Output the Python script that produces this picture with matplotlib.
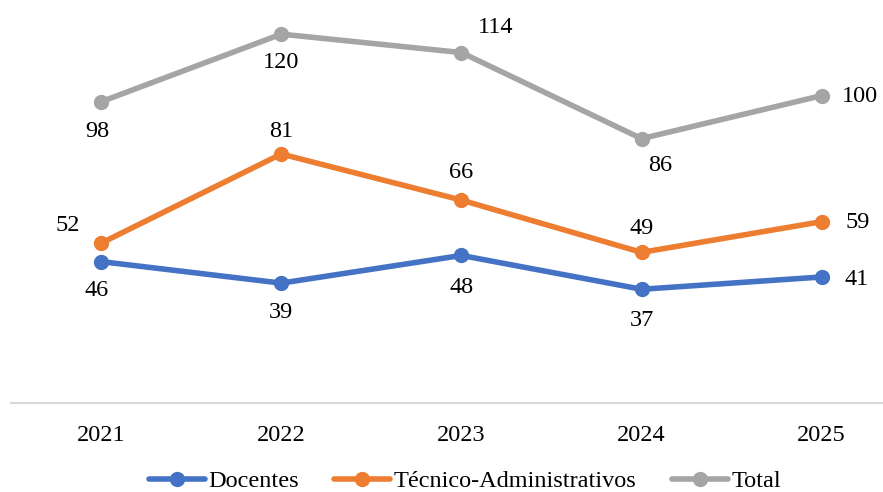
import numpy as np
import matplotlib.pyplot as plt

plt.rcParams['font.family'] = ['Liberation Serif', 'DejaVu Serif']

anos = ['2021', '2022', '2023', '2024', '2025']
docentes = [46, 39, 48, 37, 41]
tecnicos = [52, 81, 66, 49, 59]
total = [98, 120, 114, 86, 100]

# label offsets in pixels (dx, dy)
off_doc = [(-4, -29), (0, -29), (0, -32), (0, -31), (35, -3)]
off_tec = [(-33, 18), (0, 23), (0, 28), (0, 24), (36, -1)]
off_tot = [(-4, -30), (0, -28), (34, 25), (19, -27), (38, -1)]

fig = plt.figure(figsize=(8.83, 4.92), dpi=100)
ax = fig.add_axes([11/883, 89/492, 872/883, 403/492])

x = np.arange(len(anos))
series = [
    ('Docentes', docentes, '#4472C4', off_doc),
    ('Técnico-Administrativos', tecnicos, '#ED7D31', off_tec),
    ('Total', total, '#A5A5A5', off_tot),
]
for nome, vals, cor, offs in series:
    ax.plot(x, vals, color=cor, lw=4, marker='o', ms=10, label=nome,
            solid_capstyle='round')
    for xi, v, (dx, dy) in zip(x, vals, offs):
        ax.annotate(str(v), (xi, v), xytext=(dx * 0.72, dy * 0.72),
                    textcoords='offset points', ha='center', va='center',
                    fontsize=17.5, color='black')

ax.set_xlim(-0.5, 4.34)
ax.set_ylim(0, 131.1)
ax.set_xticks(x)
ax.set_xticklabels(anos, fontsize=17.5)
ax.set_yticks([])
for s in ['top', 'right', 'left']:
    ax.spines[s].set_visible(False)
ax.spines['bottom'].set_color('#D9D9D9')
ax.spines['bottom'].set_linewidth(1.5)
ax.tick_params(axis='x', length=0, pad=16)

fig.legend(loc='center', bbox_to_anchor=(465/883, 1 - 481/492), ncol=3,
           frameon=False, fontsize=17.5, handlelength=2.3, handletextpad=0.15,
           columnspacing=1.45)

fig.savefig('out.png', dpi=100)
